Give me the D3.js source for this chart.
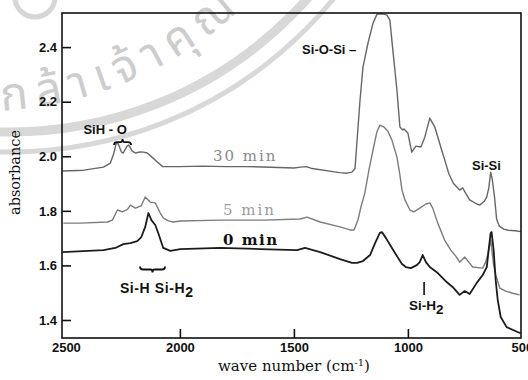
<!DOCTYPE html>
<html>
<head>
<meta charset="utf-8">
<script src="https://cdn.jsdelivr.net/npm/d3@7"></script>
<style>
  html, body { margin: 0; padding: 0; background: #fff; }
  svg { display: block; }
</style>
</head>
<body>
<svg id="chart" width="528" height="380"></svg>
<script>
// Axis ticks
const xTicks = [2500, 2000, 1500, 1000, 500];
const yTicks = [1.4, 1.6, 1.8, 2.0, 2.2, 2.4];

// IR absorbance spectra: [wave number (cm-1), absorbance]
const min30 = [
  [2515,1.946],[2420,1.949],[2335,1.960],[2305,1.975],[2290,2.010],[2279,2.048],[2270,2.045],
  [2256,2.015],[2248,2.012],[2232,2.037],[2224,2.041],[2210,2.020],[2195,2.012],[2175,2.016],
  [2160,2.015],[2143,2.012],[2120,1.995],[2099,1.979],[2075,1.962],[2000,1.962],[1900,1.964],
  [1800,1.962],[1700,1.962],[1600,1.960],[1500,1.957],[1470,1.960],[1445,1.962],[1420,1.955],
  [1300,1.940],[1267,1.938],[1245,1.942],[1232,1.955],[1210,2.206],[1197,2.327],[1175,2.415],
  [1153,2.488],[1136,2.520],[1120,2.522],[1100,2.520],[1092,2.517],[1079,2.499],[1066,2.389],
  [1048,2.242],[1035,2.107],[1022,2.096],[1017,2.100],[1000,2.085],[983,2.015],[965,2.037],
  [943,2.034],[926,2.070],[904,2.140],[882,2.107],[852,2.023],[838,1.985],[820,1.935],
  [800,1.900],[773,1.876],[760,1.884],[745,1.862],[729,1.840],[700,1.826],[685,1.821],
  [665,1.835],[654,1.851],[645,1.885],[637,1.942],[630,1.915],[620,1.850],[611,1.770],
  [600,1.745],[580,1.733],[560,1.729],[530,1.727],[505,1.724]
];
const min5 = [
  [2511,1.755],[2436,1.755],[2318,1.759],[2296,1.766],[2274,1.803],[2252,1.796],[2230,1.805],
  [2217,1.821],[2195,1.810],[2170,1.818],[2152,1.851],[2130,1.832],[2108,1.829],[2086,1.792],
  [2073,1.774],[2051,1.763],[2029,1.759],[1998,1.763],[1823,1.766],[1631,1.766],[1473,1.770],
  [1442,1.777],[1385,1.759],[1298,1.741],[1254,1.730],[1236,1.730],[1219,1.766],[1206,1.814],
  [1189,1.865],[1171,1.949],[1153,2.023],[1136,2.089],[1123,2.114],[1105,2.107],[1088,2.092],
  [1070,2.059],[1048,1.997],[1035,1.931],[1026,1.876],[1013,1.840],[991,1.803],[974,1.796],
  [948,1.810],[921,1.825],[904,1.829],[891,1.810],[869,1.755],[839,1.693],[812,1.656],
  [790,1.634],[773,1.612],[751,1.631],[733,1.612],[716,1.594],[672,1.590],[659,1.612],
  [650,1.638],[637,1.693],[624,1.601],[615,1.565],[597,1.517],[571,1.506],[545,1.499],[510,1.492]
];
const min0 = [
  [2515,1.649],[2335,1.656],[2283,1.664],[2248,1.678],[2217,1.682],[2187,1.689],[2169,1.704],
  [2152,1.741],[2138,1.792],[2125,1.766],[2108,1.748],[2095,1.719],[2073,1.664],[2042,1.653],
  [1998,1.660],[1823,1.664],[1648,1.660],[1486,1.656],[1451,1.664],[1385,1.649],[1298,1.623],
  [1245,1.609],[1223,1.609],[1197,1.616],[1166,1.638],[1144,1.682],[1123,1.719],[1114,1.722],
  [1096,1.700],[1070,1.664],[1048,1.634],[1026,1.605],[1009,1.594],[987,1.590],[961,1.601],
  [948,1.612],[935,1.638],[921,1.612],[904,1.594],[869,1.572],[830,1.539],[804,1.521],
  [773,1.492],[751,1.506],[729,1.495],[698,1.536],[672,1.565],[654,1.594],[646,1.656],
  [637,1.719],[633,1.722],[624,1.656],[615,1.546],[606,1.473],[593,1.411],[567,1.374],
  [519,1.356],[506,1.352]
];

const seriesNames = ["30 min", "5 min", "0 min"];

const svg = d3.select("#chart");
const plot = { left: 62, top: 13, right: 521, bottom: 338 };

const x = d3.scaleLinear().domain([2517, 504]).range([plot.left, plot.right]);
const y = d3.scaleLinear().domain([1.334, 2.525]).range([plot.bottom, plot.top]);

// faint institutional seal behind the plot
const wm = svg.append("g").attr("class", "watermark");
const seal = { cx: 10, cy: -266 };
[[418, 5], [398, 9]].forEach(([r, w]) => {
  wm.append("circle").attr("cx", seal.cx).attr("cy", seal.cy).attr("r", r)
    .attr("fill", "none").attr("stroke", "#d8d8d8").attr("stroke-width", w);
});
wm.append("circle").attr("cx", 35).attr("cy", -3).attr("r", 20)
  .attr("fill", "none").attr("stroke", "#d6d6d6").attr("stroke-width", 5);
const ring = { cx: -18, cy: -267, r: 378 };
const onRing = deg => {
  const t = deg * Math.PI / 180;
  return [ring.cx + ring.r * Math.cos(t), ring.cy + ring.r * Math.sin(t)];
};
const a0 = onRing(87), a1 = onRing(20);
wm.append("path").attr("id", "sealArc")
  .attr("d", `M${a0[0]},${a0[1]} A${ring.r},${ring.r} 0 0 0 ${a1[0]},${a1[1]}`)
  .attr("fill", "none");
wm.append("text")
  .attr("font-family", "'Noto Sans Thai', 'Noto Sans', 'DejaVu Sans', sans-serif")
  .attr("font-size", 46).attr("letter-spacing", 9).attr("fill", "#cdcdcd")
  .append("textPath").attr("href", "#sealArc")
  .text("กล้าเจ้าคุณ");

// axes
const yAxis = d3.axisLeft(y).tickValues(yTicks).tickFormat(d3.format(".1f"))
  .tickSizeInner(-9).tickSizeOuter(0).tickPadding(5);
const xAxis = d3.axisBottom(x).tickValues(xTicks).tickFormat(d3.format("d"))
  .tickSizeInner(-9).tickSizeOuter(0).tickPadding(5);

const gy = svg.append("g").attr("transform", `translate(${plot.left},0)`).call(yAxis);
const gx = svg.append("g").attr("transform", `translate(0,${plot.bottom})`).call(xAxis);
[gx, gy].forEach(g => {
  g.select(".domain").remove();
  g.selectAll(".tick line").attr("stroke", "#111").attr("stroke-width", 1.6);
  g.selectAll(".tick text").attr("fill", "#111")
    .attr("font-family", "'Liberation Sans', Arial, sans-serif")
    .attr("font-weight", "bold").attr("font-size", 13);
});
gx.selectAll(".tick").filter(d => d === 2500 || d === 500).select("line").remove();

// spectra
const line = d3.line().x(d => x(d[0])).y(d => y(d[1]));
const series = [
  { name: seriesNames[0], data: min30, color: "#666", width: 1.4 },
  { name: seriesNames[1], data: min5, color: "#7c7c7c", width: 1.4 },
  { name: seriesNames[2], data: min0, color: "#1c1c1c", width: 1.8 }
];
svg.append("g").selectAll("path").data(series).join("path")
  .attr("d", d => line(d.data))
  .attr("fill", "none")
  .attr("stroke", d => d.color)
  .attr("stroke-width", d => d.width)
  .attr("stroke-linejoin", "round");

// frame
svg.append("rect")
  .attr("x", plot.left).attr("y", plot.top)
  .attr("width", plot.right - plot.left).attr("height", plot.bottom - plot.top)
  .attr("fill", "none").attr("stroke", "#111").attr("stroke-width", 1.6);

// series labels
const serif = "'DejaVu Serif', 'Liberation Serif', serif";
const sans = "'Liberation Sans', Arial, sans-serif";
const seriesLabels = svg.append("g").attr("font-family", serif).attr("font-size", 15);
seriesLabels.append("text").attr("x", x(1855)).attr("y", y(1.982))
  .attr("fill", "#8a8a8a").attr("letter-spacing", 2).text(seriesNames[0]);
seriesLabels.append("text").attr("x", x(1811)).attr("y", y(1.785))
  .attr("fill", "#9c9c9c").attr("letter-spacing", 2).text(seriesNames[1]);
seriesLabels.append("text").attr("x", x(1811)).attr("y", y(1.675))
  .attr("fill", "#111").attr("font-weight", "bold").attr("letter-spacing", 1.5).text(seriesNames[2]);

// band assignments
const ann = svg.append("g").attr("font-family", sans).attr("font-weight", "bold")
  .attr("font-size", 13).attr("fill", "#111");
ann.append("text").attr("x", x(2328)).attr("y", y(2.081)).attr("text-anchor", "middle").text("SiH - O");
ann.append("text").attr("x", x(1464)).attr("y", y(2.374)).text("Si-O-Si –");
ann.append("text").attr("x", x(719)).attr("y", y(1.949)).text("Si-Si");

const siH = ann.append("text").attr("x", x(2263)).attr("y", y(1.499))
  .attr("font-size", 14).attr("letter-spacing", 0.6);
siH.append("tspan").text("Si-H Si-H");
siH.append("tspan").attr("dy", 4).text("2");

const siH2 = ann.append("text").attr("x", x(995)).attr("y", y(1.437)).attr("font-size", 13.5);
siH2.append("tspan").text("Si-H");
siH2.append("tspan").attr("dy", 4).text("2");

// marker tick for the Si-H2 band
svg.append("line")
  .attr("x1", x(929)).attr("x2", x(929)).attr("y1", y(1.539)).attr("y2", y(1.492))
  .attr("stroke", "#111").attr("stroke-width", 1.6);

// braces
function brace(w1, w2, a, dir) {
  const x1 = x(w1), x2 = x(w2), yy = y(a), xm = (x1 + x2) / 2, h = 3 * dir;
  return `M${x1},${yy + h} Q${x1},${yy} ${x1 + 3},${yy} L${xm - 2},${yy} Q${xm},${yy} ${xm},${yy - h}` +
         ` Q${xm},${yy} ${xm + 2},${yy} L${x2 - 3},${yy} Q${x2},${yy} ${x2},${yy + h}`;
}
svg.append("path").attr("d", brace(2289, 2214, 2.052, 1))
  .attr("fill", "none").attr("stroke", "#111").attr("stroke-width", 1.8);
svg.append("path").attr("d", brace(2175, 2065, 1.585, -1))
  .attr("fill", "none").attr("stroke", "#111").attr("stroke-width", 1.8);

// axis titles
svg.append("text")
  .attr("transform", `translate(20,${(plot.top + plot.bottom) / 2 - 3}) rotate(-90)`)
  .attr("text-anchor", "middle").attr("font-family", serif).attr("font-size", 14.5)
  .attr("fill", "#111").text("absorbance");

const xt = svg.append("text").attr("x", 294).attr("y", 371).attr("text-anchor", "middle")
  .attr("font-family", serif).attr("font-size", 15).attr("fill", "#111");
xt.append("tspan").text("wave number (cm");
xt.append("tspan").attr("dy", -5).attr("font-size", 10).text("-1");
xt.append("tspan").attr("dy", 5).text(")");
</script>
</body>
</html>
